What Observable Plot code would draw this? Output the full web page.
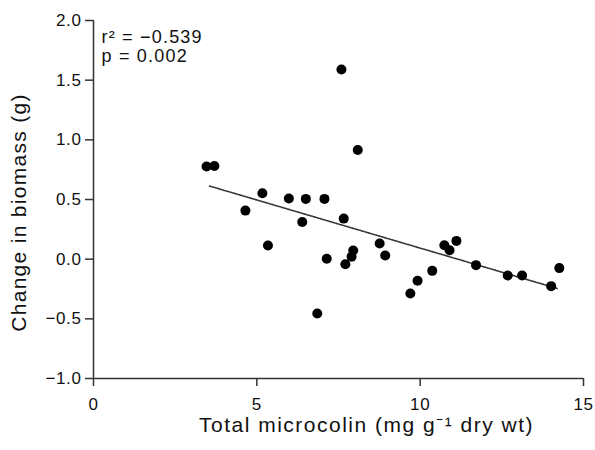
<!DOCTYPE html>
<html>
<head>
<meta charset="utf-8">
<script src="https://cdn.jsdelivr.net/npm/d3@7"></script>
<script src="https://cdn.jsdelivr.net/npm/@observablehq/plot@0.6"></script>
<style>
  html, body { margin: 0; padding: 0; background: #fff; }
  svg { font-family: "Liberation Sans", Arial, Helvetica, sans-serif; }
</style>
</head>
<body>
<div id="chart"></div>
<script>
// Data
const microcolin = [3.46, 3.70, 7.59, 8.09, 5.17, 4.65, 5.98, 6.50, 7.07, 6.39,
                    7.66, 5.34, 7.14, 7.71, 7.95, 7.90, 8.76, 8.93, 9.70, 9.92,
                    10.37, 10.74, 10.90, 11.11, 11.71, 12.68, 13.12, 14.01, 14.26, 6.85];
const biomassChange = [0.777, 0.780, 1.59, 0.915, 0.552, 0.407, 0.508, 0.505, 0.505, 0.312,
                       0.340, 0.114, 0.003, -0.042, 0.073, 0.020, 0.131, 0.031, -0.287, -0.181,
                       -0.098, 0.117, 0.075, 0.153, -0.050, -0.137, -0.137, -0.226, -0.075, -0.455];
const trendX = [3.55, 14.19];
const trendY = [0.613, -0.245];
const xTicks = [0, 5, 10, 15];
const yTicks = [-1.0, -0.5, 0.0, 0.5, 1.0, 1.5, 2.0];
const statR = "r\u00B2 = \u22120.539";
const statP = "p = 0.002";
const xTitle = "Total microcolin (mg g\u207B\u00B9 dry wt)";
const yTitle = "Change in biomass (g)";

const points = microcolin.map((x, i) => ({x, y: biomassChange[i]}));
const trend = trendX.map((x, i) => ({x, y: trendY[i]}));
const fmt = d3.format(".1f");
const axisColor = "#333";

const chart = Plot.plot({
  width: 595,
  height: 450,
  marginLeft: 93,
  marginRight: 12,
  marginTop: 20,
  marginBottom: 72,
  style: {background: "#fff", fontFamily: "Liberation Sans, Arial, sans-serif", color: "#111"},
  x: {domain: [0, 15]},
  y: {domain: [-1, 2]},
  marks: [
    Plot.axisX({ticks: xTicks, tickSize: 8, tickPadding: 11, fontSize: 17, label: null, stroke: axisColor, strokeWidth: 1.5, fill: "#111"}),
    Plot.axisY({ticks: yTicks, tickSize: 8, tickPadding: 4, fontSize: 17, label: null, tickFormat: fmt, stroke: axisColor, strokeWidth: 1.5, fill: "#111"}),
    Plot.ruleX([0], {stroke: axisColor, strokeWidth: 1.5}),
    Plot.ruleY([-1], {stroke: axisColor, strokeWidth: 1.5}),
    Plot.line(trend, {x: "x", y: "y", stroke: "#333", strokeWidth: 1.6, strokeDasharray: "1.5,1.3"}),
    Plot.dot(points, {x: "x", y: "y", r: 5, fill: "#000", stroke: "none"}),
    Plot.text([statR], {text: d => d, frameAnchor: "top-left", textAnchor: "start", lineAnchor: "top", dx: 8, dy: 10, fontSize: 18, fill: "#111"}),
    Plot.text([statP], {text: d => d, frameAnchor: "top-left", textAnchor: "start", lineAnchor: "top", dx: 8, dy: 28.5, fontSize: 18, fill: "#111"}),
    Plot.text([xTitle], {text: d => d, frameAnchor: "bottom", textAnchor: "middle", dx: 28, dy: 53, fontSize: 21, fill: "#111"}),
    Plot.text([yTitle], {text: d => d, frameAnchor: "left", textAnchor: "middle", rotate: -90, dx: -74, dy: 13, fontSize: 21, fill: "#111"})
  ]
});
// Letter spacing to match the reference's wider lettering
const spacing = new Map([[xTitle, "1.5px"], [yTitle, "1.3px"], [statR, "1.2px"], [statP, "1.2px"]]);
d3.select(chart).selectAll("text").each(function() {
  const t = this.textContent;
  if (spacing.has(t)) this.style.letterSpacing = spacing.get(t);
  else this.style.letterSpacing = "0.6px";
});
document.getElementById("chart").appendChild(chart);
</script>
</body>
</html>
